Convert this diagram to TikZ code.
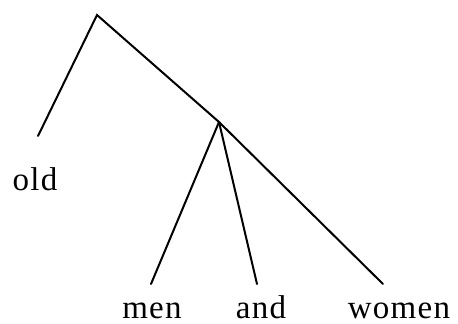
\documentclass[tikz,border=0pt]{standalone}
\usepackage{fontspec}
\setmainfont{Liberation Serif}
\usepackage{tikz}
\usetikzlibrary{positioning}
\newfontfamily\wordfont[LetterSpace=4]{Liberation Serif}
\tikzset{
  branch/.style={draw=black, line width=2pt, line cap=round},
  word/.style ={font=\wordfont\fontsize{33}{36}\selectfont, anchor=base, inner sep=0pt},
}

\begin{document}
\begin{tikzpicture}[x=1pt,y=-1pt]
        \useasboundingbox (0,0) rectangle (458,324);
        \coordinate (top) at (97,15);
        \coordinate (mid) at (219,122);
        \coordinate (oldend) at (38,136);
        \coordinate (menend) at (151,284);
        \coordinate (andend) at (257,284);
        \coordinate (womenend) at (383,284);
        \node[word] (old)   at (35,190)  {old};
        \node[word] (men)   at (152,318) {men};
        \node[word] (and)   at (261,318) {and};
        \node[word] (women) at (399,318) {women};
        \draw[branch] (oldend) -- (top) -- (mid) -- (womenend);
        \draw[branch] (mid) -- (menend);
        \draw[branch] (mid) -- (andend);
      \end{tikzpicture}
\end{document}
